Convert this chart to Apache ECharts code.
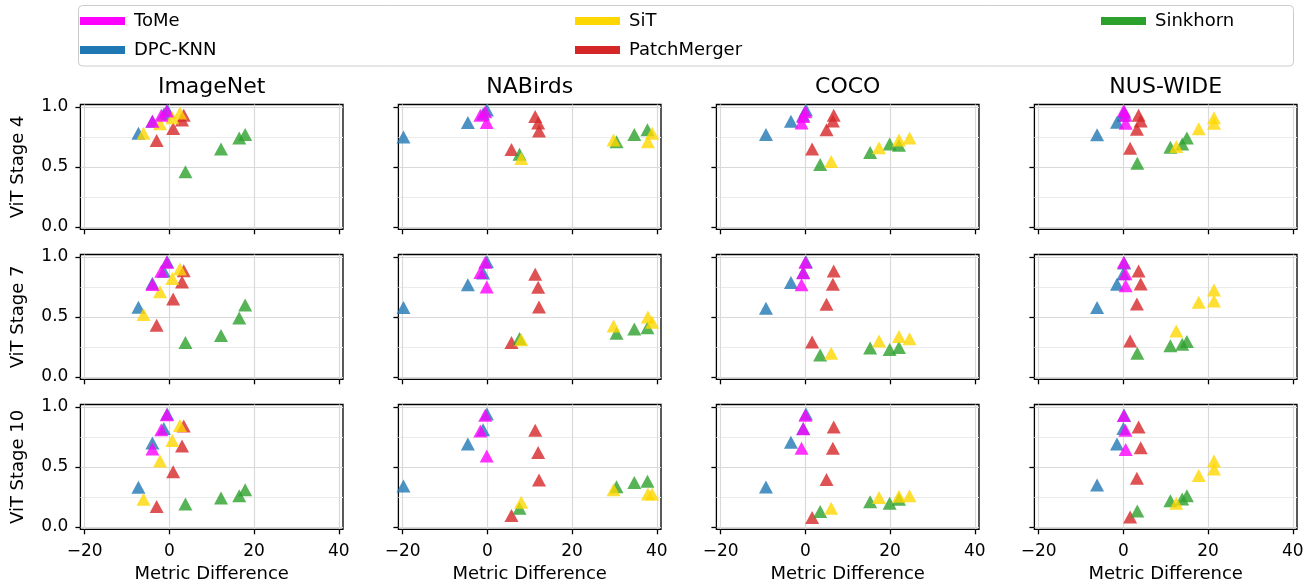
<!DOCTYPE html>
<html>
<head>
<meta charset="utf-8">
<script src="https://cdn.jsdelivr.net/npm/echarts@6/dist/echarts.min.js"></script>
<style>
  html, body { margin: 0; padding: 0; background: #fff; }
  #chart { width: 1312px; height: 586px; }
</style>
</head>
<body>
<div id="chart"></div>
<script>
// ---- labels ----
const datasets = ['ImageNet', 'NABirds', 'COCO', 'NUS-WIDE'];
const stages = ['ViT Stage 4', 'ViT Stage 7', 'ViT Stage 10'];
const xTicks = [-20, 0, 20, 40];
const yMajor = [0, 0.5, 1];
const yMinor = [0.25, 0.75];

// ---- metric difference (x), one list per dataset, shared by all stages ----
const tomeDiff = [[-4.0, -1.9, -0.6], [-1.65, -0.5, -0.15], [-0.9, -0.5, 0.0], [0.55, 0.5, 0.1]];
const dpcDiff = [[-7.3, -4.0, -1.3, -0.5], [-19.8, -4.6, -1.0, -0.1], [-9.3, -3.4, -0.5, 0.15], [-6.2, -1.5, 0.0, 0.2]];
const sitDiff = [[-6.1, -2.2, 0.7, 2.5], [8.0, 29.8, 37.9, 38.9], [6.1, 17.4, 22.1, 24.6], [12.5, 17.8, 21.4, 21.4]];
const pmDiff = [[-3.0, 0.9, 3.0, 3.4], [5.7, 11.3, 12.0, 12.2], [1.6, 5.0, 6.5, 6.7], [1.6, 3.2, 4.1, 3.6]];
const skDiff = [[3.8, 12.2, 16.5, 17.9], [7.6, 30.5, 34.7, 37.8], [3.5, 15.3, 19.9, 22.1], [3.3, 11.1, 13.9, 15.0]];

// ---- y values: [stage][dataset][point] ----
const tomeSim = [
  [[0.88, 0.93, 0.965], [0.93, 0.96, 0.87], [0.865, 0.92, 0.96], [0.864, 0.93, 0.967]],
  [[0.77, 0.88, 0.955], [0.87, 0.955, 0.75], [0.767, 0.867, 0.955], [0.76, 0.86, 0.955]],
  [[0.65, 0.81, 0.935], [0.80, 0.93, 0.59], [0.655, 0.817, 0.93], [0.644, 0.805, 0.928]]
];
const dpcSim = [
  [[0.78, 0.88, 0.94, 0.975], [0.75, 0.87, 0.94, 0.975], [0.77, 0.88, 0.93, 0.975], [0.767, 0.872, 0.93, 0.96]],
  [[0.58, 0.78, 0.88, 0.96], [0.578, 0.767, 0.865, 0.96], [0.572, 0.786, 0.87, 0.96], [0.578, 0.772, 0.86, 0.95]],
  [[0.33, 0.70, 0.82, 0.94], [0.34, 0.69, 0.81, 0.94], [0.333, 0.705, 0.82, 0.94], [0.35, 0.69, 0.82, 0.93]]
];
const sitSim = [
  [[0.78, 0.86, 0.91, 0.95], [0.57, 0.725, 0.71, 0.78], [0.545, 0.66, 0.725, 0.74], [0.67, 0.817, 0.864, 0.91]],
  [[0.52, 0.71, 0.82, 0.90], [0.31, 0.425, 0.50, 0.455], [0.197, 0.30, 0.336, 0.317], [0.383, 0.622, 0.633, 0.725]],
  [[0.23, 0.55, 0.72, 0.845], [0.205, 0.31, 0.275, 0.275], [0.155, 0.244, 0.255, 0.26], [0.197, 0.428, 0.483, 0.55]]
];
const pmSim = [
  [[0.72, 0.82, 0.89, 0.93], [0.645, 0.92, 0.865, 0.80], [0.65, 0.81, 0.883, 0.93], [0.655, 0.814, 0.883, 0.93]],
  [[0.43, 0.65, 0.79, 0.885], [0.286, 0.855, 0.747, 0.583], [0.29, 0.606, 0.772, 0.883], [0.30, 0.608, 0.775, 0.883]],
  [[0.17, 0.46, 0.675, 0.84], [0.094, 0.805, 0.62, 0.39], [0.078, 0.394, 0.655, 0.833], [0.083, 0.405, 0.66, 0.833]]
];
const skSim = [
  [[0.46, 0.65, 0.74, 0.77], [0.605, 0.71, 0.77, 0.81], [0.52, 0.62, 0.69, 0.68], [0.53, 0.664, 0.69, 0.74]],
  [[0.286, 0.345, 0.49, 0.60], [0.32, 0.364, 0.40, 0.41], [0.183, 0.24, 0.228, 0.245], [0.197, 0.26, 0.272, 0.294]],
  [[0.19, 0.24, 0.26, 0.31], [0.155, 0.335, 0.37, 0.38], [0.128, 0.21, 0.197, 0.23], [0.133, 0.217, 0.233, 0.26]]
];

// draw order (later entries sit on top)
const methods = [
  { name: 'DPC-KNN', color: '#1f77b4', diff: dpcDiff, sim: dpcSim },
  { name: 'PatchMerger', color: '#d62728', diff: pmDiff, sim: pmSim },
  { name: 'Sinkhorn', color: '#2ca02c', diff: skDiff, sim: skSim },
  { name: 'SiT', color: '#ffd700', diff: sitDiff, sim: sitSim },
  { name: 'ToMe', color: '#ff00ff', diff: tomeDiff, sim: tomeSim }
];

// ---- layout ----
const FONT = 'DejaVu Sans';
const X_MIN = -21, X_MAX = 41, Y_MIN = -0.02, Y_MAX = 1.02;
const GRID_LEFT = 80.4, COL_STEP = 318, GRID_W = 262.6;
const GRID_TOP = 104.5, ROW_STEP = 150, GRID_H = 124.8;

const fmtX = v => (v < 0 ? '\u2212' + Math.abs(v) : String(v));

const grids = [], xAxes = [], yAxes = [], series = [], graphics = [];

// legend frame
graphics.push({
  type: 'rect', z: 0, silent: true,
  shape: { x: 78.5, y: 5.5, width: 1215, height: 60.5, r: 4 },
  style: { fill: '#fff', stroke: '#cccccc', lineWidth: 1 }
});

for (let r = 0; r < 3; r++) {
  for (let c = 0; c < 4; c++) {
    const g = r * 4 + c;
    const left = GRID_LEFT + c * COL_STEP;
    const top = GRID_TOP + r * ROW_STEP;
    grids.push({
      left: left, top: top, width: GRID_W, height: GRID_H,
      show: true, borderColor: '#000', borderWidth: 1.3, backgroundColor: 'transparent',
      containLabel: false, outerBoundsMode: 'none'
    });
    xAxes.push({
      gridIndex: g, type: 'value', min: X_MIN, max: X_MAX,
      axisLine: { show: false, onZero: false },
      axisTick: { show: true, customValues: xTicks, length: 5, lineStyle: { color: '#000', width: 1.3 } },
      axisLabel: {
        show: r === 2, customValues: xTicks, formatter: fmtX, margin: 14,
        fontSize: 17, fontFamily: FONT, color: '#000'
      },
      splitLine: { show: true, lineStyle: { color: '#d9d9d9', width: 1.2 } }
    });
    // main value axis: ticks, labels, major grid lines
    yAxes.push({
      gridIndex: g, type: 'value', position: 'left', min: Y_MIN, max: Y_MAX,
      axisLine: { show: false, onZero: false },
      axisTick: { show: true, customValues: yMajor, length: 5, lineStyle: { color: '#000', width: 1.3 } },
      axisLabel: {
        show: c === 0, customValues: yMajor, formatter: v => v.toFixed(1), margin: 12,
        fontSize: 17, fontFamily: FONT, color: '#000'
      },
      splitLine: { show: true, lineStyle: { color: '#d9d9d9', width: 1.2 } }
    });
    // companion axis for the quarter grid lines
    yAxes.push({
      gridIndex: g, type: 'value', position: 'right', min: Y_MIN, max: Y_MAX,
      axisLine: { show: false, onZero: false },
      axisTick: { show: false, customValues: yMinor },
      axisLabel: { show: false },
      splitLine: { show: true, lineStyle: { color: '#ebebeb', width: 1.2 } }
    });

    methods.forEach(m => {
      series.push({
        type: 'scatter', name: m.name,
        xAxisIndex: g, yAxisIndex: g * 2,
        symbol: 'triangle', symbolSize: [14, 13],
        itemStyle: { color: m.color, opacity: 0.8 },
        emphasis: { disabled: true },
        data: m.diff[c].map((x, i) => [x, m.sim[r][c][i]])
      });
    });

    if (r === 0) {
      graphics.push({
        type: 'text', x: left + GRID_W / 2, y: 87, silent: true,
        style: { text: datasets[c], font: '22px "' + FONT + '"', fill: '#000', align: 'center', verticalAlign: 'middle' }
      });
    }
    if (r === 2) {
      graphics.push({
        type: 'text', x: left + GRID_W / 2, y: 574, silent: true,
        style: { text: 'Metric Difference', font: '18px "' + FONT + '"', fill: '#000', align: 'center', verticalAlign: 'middle' }
      });
    }
    if (c === 0) {
      graphics.push({
        type: 'text', x: 18, y: top + GRID_H / 2, rotation: Math.PI / 2, silent: true,
        style: { text: stages[r], font: '18px "' + FONT + '"', fill: '#000', align: 'center', verticalAlign: 'middle' }
      });
    }
  }
}

const legendBase = {
  orient: 'vertical', top: 12, padding: 0,
  itemWidth: 45, itemHeight: 8, itemGap: 11, icon: 'rect',
  selectedMode: false,
  itemStyle: { opacity: 1 },
  textStyle: { fontSize: 18, fontFamily: FONT, color: '#000', padding: [0, 0, 0, 4] }
};

const option = {
  animation: false,
  backgroundColor: '#fff',
  textStyle: { fontFamily: FONT },
  legend: [
    Object.assign({}, legendBase, { left: 80, data: ['ToMe', 'DPC-KNN'] }),
    Object.assign({}, legendBase, { left: 575, data: ['SiT', 'PatchMerger'] }),
    Object.assign({}, legendBase, { left: 1101, data: ['Sinkhorn'] })
  ],
  graphic: graphics,
  grid: grids,
  xAxis: xAxes,
  yAxis: yAxes,
  series: series
};

const chart = echarts.init(document.getElementById('chart'), null, { renderer: 'canvas' });
chart.setOption(option);
</script>
</body>
</html>
